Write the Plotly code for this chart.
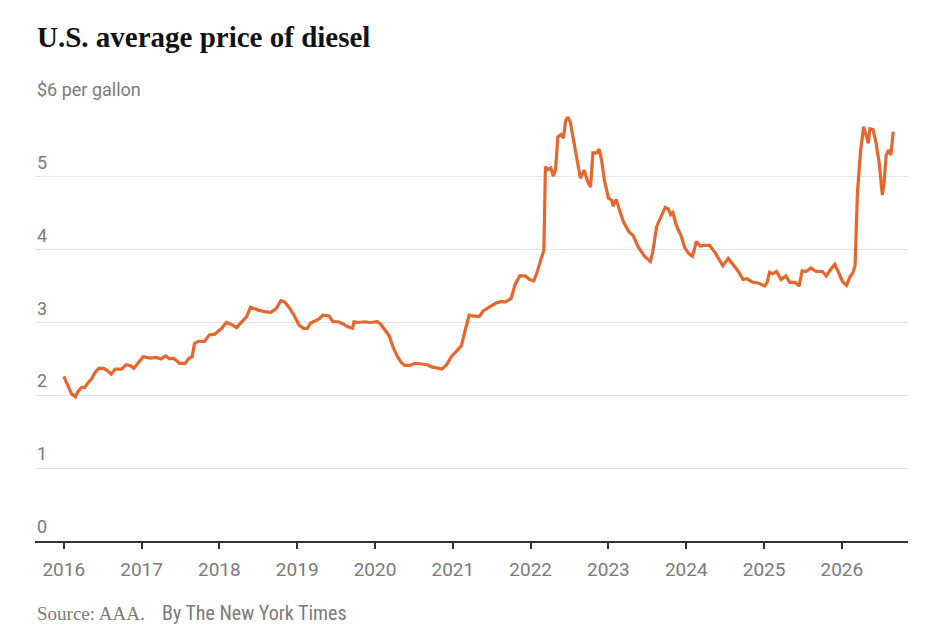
import plotly.graph_objects as go

# Decimal-year positions and weekly-ish average diesel price ($/gal)
years = [
    2016.00, 2016.06, 2016.10, 2016.15, 2016.18, 2016.23, 2016.27, 2016.31, 2016.36, 2016.40,
    2016.45, 2016.51, 2016.56, 2016.61, 2016.66, 2016.74, 2016.80, 2016.85, 2016.90, 2016.96,
    2017.02, 2017.11, 2017.19, 2017.25, 2017.31, 2017.36, 2017.41, 2017.49, 2017.56, 2017.61,
    2017.65, 2017.68, 2017.73, 2017.81, 2017.87, 2017.94, 2018.03, 2018.09, 2018.16, 2018.22,
    2018.28, 2018.35, 2018.40, 2018.50, 2018.58, 2018.66, 2018.73, 2018.79, 2018.84, 2018.90,
    2018.97, 2019.02, 2019.08, 2019.13, 2019.17, 2019.23, 2019.28, 2019.33, 2019.41, 2019.46,
    2019.53, 2019.59, 2019.65, 2019.71, 2019.73, 2019.78, 2019.87, 2019.93, 2019.98, 2020.03,
    2020.07, 2020.13, 2020.18, 2020.23, 2020.28, 2020.33, 2020.38, 2020.45, 2020.51, 2020.60,
    2020.67, 2020.73, 2020.79, 2020.86, 2020.92, 2020.98, 2021.05, 2021.11, 2021.16, 2021.21,
    2021.26, 2021.34, 2021.39, 2021.48, 2021.56, 2021.63, 2021.67, 2021.72, 2021.75, 2021.80,
    2021.86, 2021.93, 2021.99, 2022.04, 2022.08, 2022.13, 2022.17, 2022.19, 2022.22, 2022.26,
    2022.29, 2022.32, 2022.35, 2022.39, 2022.42, 2022.45, 2022.48, 2022.51, 2022.56, 2022.60,
    2022.64, 2022.69, 2022.73, 2022.77, 2022.80, 2022.85, 2022.88, 2022.91, 2022.95, 2023.00,
    2023.04, 2023.06, 2023.10, 2023.14, 2023.19, 2023.26, 2023.32, 2023.38, 2023.47, 2023.54,
    2023.57, 2023.62, 2023.66, 2023.68, 2023.73, 2023.77, 2023.80, 2023.83, 2023.87, 2023.93,
    2023.98, 2024.03, 2024.08, 2024.13, 2024.18, 2024.24, 2024.30, 2024.37, 2024.42, 2024.47,
    2024.54, 2024.60, 2024.67, 2024.73, 2024.78, 2024.84, 2024.93, 2025.01, 2025.04, 2025.07,
    2025.11, 2025.16, 2025.22, 2025.28, 2025.33, 2025.40, 2025.45, 2025.49, 2025.54, 2025.60,
    2025.67, 2025.75, 2025.80, 2025.85, 2025.91, 2025.96, 2026.01, 2026.06, 2026.10, 2026.14,
    2026.17, 2026.20, 2026.24, 2026.28, 2026.31, 2026.34, 2026.36, 2026.40, 2026.44, 2026.48,
    2026.52, 2026.54, 2026.57, 2026.60, 2026.63, 2026.66,
]
prices = [
    2.26, 2.10, 2.02, 1.98, 2.05, 2.11, 2.11, 2.17, 2.23, 2.31,
    2.37, 2.37, 2.34, 2.29, 2.36, 2.36, 2.42, 2.41, 2.37, 2.45,
    2.53, 2.51, 2.52, 2.50, 2.54, 2.50, 2.51, 2.44, 2.44, 2.51,
    2.53, 2.71, 2.74, 2.74, 2.83, 2.84, 2.92, 3.00, 2.97, 2.93,
    3.00, 3.08, 3.21, 3.17, 3.15, 3.14, 3.19, 3.30, 3.28, 3.20,
    3.08, 2.97, 2.92, 2.92, 2.99, 3.02, 3.05, 3.10, 3.09, 3.01,
    3.01, 2.98, 2.94, 2.92, 3.01, 3.00, 3.01, 3.00, 3.00, 3.01,
    2.98, 2.89, 2.82, 2.67, 2.55, 2.46, 2.41, 2.41, 2.44, 2.43,
    2.42, 2.39, 2.38, 2.36, 2.42, 2.53, 2.61, 2.68, 2.90, 3.10,
    3.09, 3.08, 3.16, 3.22, 3.27, 3.29, 3.28, 3.31, 3.33, 3.52,
    3.64, 3.64, 3.59, 3.57, 3.68, 3.86, 3.99, 5.14, 5.10, 5.12,
    5.01, 5.10, 5.55, 5.58, 5.53, 5.77, 5.82, 5.75, 5.46, 5.19,
    4.98, 5.09, 4.94, 4.86, 5.33, 5.33, 5.38, 5.24, 4.94, 4.71,
    4.68, 4.60, 4.69, 4.55, 4.39, 4.25, 4.19, 4.04, 3.90, 3.84,
    3.97, 4.32, 4.41, 4.46, 4.58, 4.56, 4.48, 4.51, 4.34, 4.20,
    4.03, 3.95, 3.91, 4.11, 4.05, 4.06, 4.06, 3.96, 3.87, 3.78,
    3.88, 3.79, 3.70, 3.59, 3.60, 3.56, 3.54, 3.50, 3.55, 3.69,
    3.67, 3.70, 3.59, 3.64, 3.55, 3.55, 3.50, 3.71, 3.70, 3.75,
    3.70, 3.70, 3.64, 3.72, 3.80, 3.68, 3.56, 3.51, 3.62, 3.68,
    3.78, 4.78, 5.35, 5.69, 5.58, 5.46, 5.66, 5.65, 5.46, 5.19,
    4.75, 4.89, 5.30, 5.37, 5.30, 5.62,
]

year_ticks = list(range(2016, 2027))
y_ticks = [0, 1, 2, 3, 4, 5, 6]
y_tick_text = ["0", "1", "2", "3", "4", "5", "$6 per gallon"]

LINE_COLOR = "#e4672f"
LABEL_GRAY = "#7a7a7a"
SANS = "Roboto, Liberation Sans, sans-serif"

fig = go.Figure()
fig.add_scatter(
    x=years,
    y=prices,
    mode="lines",
    line={"color": LINE_COLOR, "width": 3.2},
    hoverinfo="x+y",
    showlegend=False,
)

# the page body adds an 8px offset, so the figure is a bit smaller than the window
fig.update_layout(
    width=920,
    height=626,
    paper_bgcolor="white",
    plot_bgcolor="white",
    margin={"l": 27, "r": 20, "t": 96, "b": 93},
    font={"family": SANS, "size": 19, "color": LABEL_GRAY},
)

fig.update_xaxes(
    range=[2015.63, 2026.85],
    tickvals=year_ticks,
    ticktext=[str(y) for y in year_ticks],
    showgrid=False,
    zeroline=False,
    showline=True,
    linecolor="#333333",
    linewidth=1.5,
    ticks="outside",
    ticklen=6,
    tickwidth=1.5,
    tickcolor="#333333",
    tickfont={"family": SANS, "size": 19, "color": LABEL_GRAY},
    ticklabelstandoff=4,
)
fig.update_yaxes(
    range=[0, 6],
    tickvals=y_ticks[1:],
    showticklabels=False,
    showgrid=True,
    gridcolor="#e4e4e4",
    gridwidth=1,
    zeroline=False,
)

# y labels sit on top of the gridlines, left aligned
for val, txt in zip(y_ticks, y_tick_text):
    fig.add_annotation(
        x=0, xref="paper", xanchor="left",
        y=val, yref="y", yanchor="bottom",
        yshift=2,
        text=txt,
        showarrow=False,
        font={"family": SANS, "size": 18, "color": LABEL_GRAY},
    )

fig.add_annotation(
    x=0, xref="paper", xanchor="left",
    y=1.153, yref="paper", yanchor="middle",
    text="<b>U.S. average price of diesel</b>",
    showarrow=False,
    font={"family": "Liberation Serif, serif", "size": 29, "color": "#121212"},
)
fig.add_annotation(
    x=0, xref="paper", xanchor="left",
    y=-0.165, yref="paper", yanchor="middle",
    text="Source: AAA.",
    showarrow=False,
    font={"family": "Liberation Serif, serif", "size": 19, "color": LABEL_GRAY},
)
fig.add_annotation(
    x=(160 - 35) / 873, xref="paper", xanchor="left",
    y=-0.165, yref="paper", yanchor="middle",
    text="By The New York Times",
    showarrow=False,
    font={"family": "Liberation Sans Narrow, Roboto Condensed, Roboto, sans-serif", "size": 20,
          "color": LABEL_GRAY},
)

fig.write_html("out.html")
